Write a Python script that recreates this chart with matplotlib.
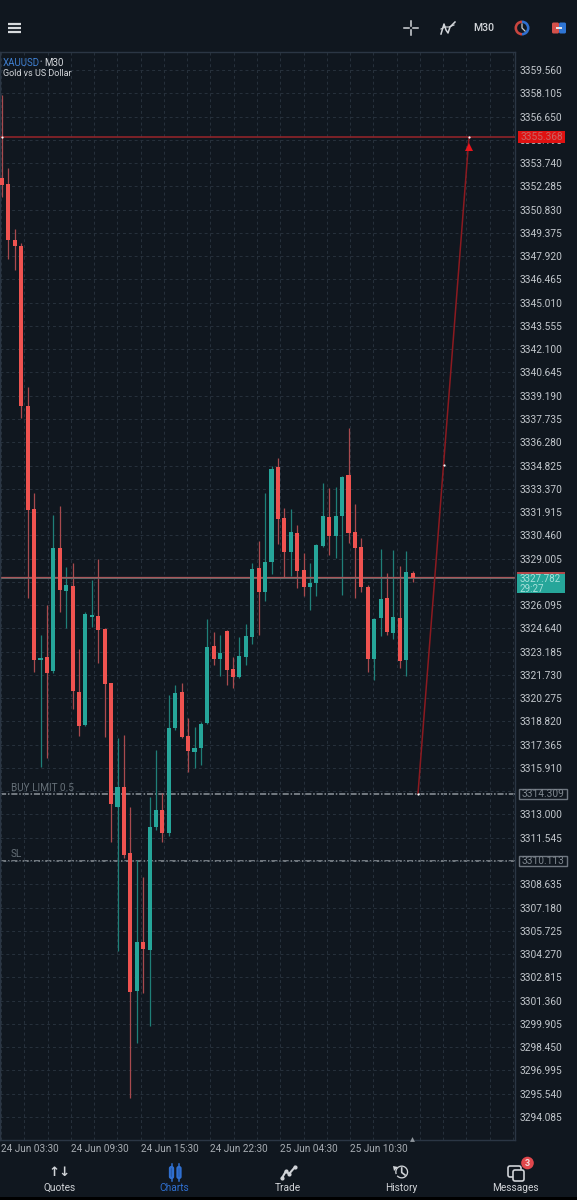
import matplotlib
matplotlib.use("Agg")
import matplotlib.pyplot as plt
from matplotlib.patches import Rectangle, Circle, FancyBboxPatch, Wedge, Polygon

plt.rcParams['font.family'] = ['Roboto', 'DejaVu Sans']

# XAUUSD M30 candles, oldest first
opens = [3352.81, 3352.43, 3348.93, 3348.55, 3338.55, 3332.10, 3322.66, 3322.85, 3321.97, 3329.67,
         3326.98, 3327.29, 3320.66, 3318.60, 3325.35, 3325.41, 3324.60, 3321.22, 3313.47, 3314.72,
         3310.59, 3301.96, 3305.03, 3304.52, 3312.22, 3313.28, 3311.84, 3318.41, 3320.66, 3317.91,
         3316.91, 3317.16, 3318.72, 3323.54, 3322.72, 3324.48, 3322.10, 3321.60, 3322.85, 3324.10,
         3328.42, 3326.91, 3328.79, 3334.73, 3331.54, 3329.42, 3330.60, 3328.29, 3327.23, 3327.48,
         3329.79, 3331.60, 3330.42, 3331.67, 3334.23, 3330.67, 3329.73, 3327.23, 3322.72, 3325.29,
         3326.54, 3324.35, 3325.29, 3322.66, 3328.10]
highs = [3358.00, 3353.43, 3349.62, 3348.74, 3339.73, 3333.11, 3324.22, 3326.10, 3331.73, 3332.29,
         3328.48, 3328.73, 3323.35, 3325.66, 3327.66, 3328.98, 3324.66, 3321.22, 3317.78, 3317.97,
         3313.47, 3310.15, 3309.09, 3314.09, 3317.03, 3314.34, 3320.47, 3321.10, 3321.22, 3319.03,
         3318.47, 3318.78, 3325.23, 3324.41, 3324.22, 3324.54, 3322.85, 3324.10, 3324.91, 3328.73,
         3330.10, 3333.11, 3334.79, 3335.29, 3332.17, 3332.10, 3331.10, 3329.35, 3328.73, 3329.92,
         3333.73, 3333.42, 3333.48, 3334.17, 3337.17, 3332.42, 3330.29, 3327.35, 3325.29, 3329.60,
         3328.10, 3329.54, 3328.54, 3329.48, 3328.23]
lows = [3351.62, 3347.74, 3347.05, 3337.80, 3326.54, 3321.91, 3315.97, 3316.53, 3321.85, 3325.66,
        3324.66, 3319.60, 3317.91, 3318.53, 3324.73, 3322.47, 3317.85, 3311.28, 3304.46, 3310.28,
        3295.27, 3298.71, 3301.84, 3299.77, 3312.03, 3311.28, 3311.65, 3318.28, 3317.78, 3315.66,
        3315.91, 3316.09, 3318.66, 3322.35, 3321.66, 3321.10, 3320.91, 3321.54, 3322.35, 3323.66,
        3324.22, 3326.35, 3328.04, 3329.92, 3327.85, 3327.91, 3327.16, 3326.66, 3325.79, 3326.66,
        3329.73, 3329.23, 3329.04, 3326.73, 3329.98, 3326.54, 3326.91, 3321.91, 3321.41, 3324.16,
        3324.22, 3323.98, 3322.16, 3321.66, 3327.54]
closes = [3352.37, 3348.93, 3348.55, 3338.55, 3332.04, 3322.66, 3322.79, 3321.85, 3329.67, 3327.04,
          3327.35, 3320.72, 3318.53, 3325.54, 3325.48, 3324.54, 3321.16, 3313.66, 3314.72, 3310.47,
          3301.90, 3305.03, 3304.59, 3312.22, 3313.28, 3311.84, 3318.41, 3320.60, 3317.85, 3316.97,
          3317.16, 3318.66, 3323.47, 3322.72, 3323.10, 3322.04, 3321.60, 3322.91, 3324.16, 3328.35,
          3326.91, 3328.79, 3334.61, 3331.48, 3329.42, 3330.67, 3328.23, 3327.23, 3327.48, 3329.85,
          3331.67, 3330.42, 3331.67, 3334.11, 3330.60, 3329.67, 3327.23, 3322.72, 3325.23, 3326.48,
          3324.41, 3325.35, 3322.60, 3328.16, 3327.782]

price_ticks = [3359.560, 3358.105, 3356.650, 3355.195, 3353.740, 3352.285, 3350.830, 3349.375,
               3347.920, 3346.465, 3345.010, 3343.555, 3342.100, 3340.645, 3339.190, 3337.735,
               3336.280, 3334.825, 3333.370, 3331.915, 3330.460, 3329.005, 3327.550, 3326.095,
               3324.640, 3323.185, 3321.730, 3320.275, 3318.820, 3317.365, 3315.910, 3314.455,
               3313.000, 3311.545, 3310.090, 3308.635, 3307.180, 3305.725, 3304.270, 3302.815,
               3301.360, 3299.905, 3298.450, 3296.995, 3295.540, 3294.085]
# these ticks sit under a price tag, so they keep their grid line but no label
covered_ticks = [3327.550, 3314.455, 3310.090]
time_labels = ["24 Jun 03:30", "24 Jun 09:30", "24 Jun 15:30", "24 Jun 22:30", "25 Jun 04:30", "25 Jun 10:30"]
time_px = [30, 100, 170, 239, 309, 379]

take_profit = 3355.368
buy_limit = 3314.309
stop_loss = 3310.113
bid = 3327.782
ask = 3327.880

BG = "#10171f"
GRID = "#27313c"
RED = "#ef5350"
TEAL = "#26a69a"
RED_WICK = "#a84a4e"
TEAL_WICK = "#1f7f78"
LABEL = "#c2c7cc"

W, H = 577, 1200
LEFT_PX, RIGHT_PX, TOP_PX, BOTTOM_PX = 0, 515, 52, 1140
CANDLE_X0, CANDLE_STEP = 2.0, 6.417
PX_PER_UNIT = 15.99


def idx(px):
    return (px - CANDLE_X0) / CANDLE_STEP


fig = plt.figure(figsize=(W / 100, H / 100), dpi=100, facecolor=BG)

# price chart
ax = fig.add_axes([LEFT_PX / W, 1 - BOTTOM_PX / H, (RIGHT_PX - LEFT_PX) / W, (BOTTOM_PX - TOP_PX) / H],
                  facecolor=BG, zorder=1)
ax.set_xlim(idx(LEFT_PX), idx(RIGHT_PX))
ax.set_ylim(price_ticks[0] - (BOTTOM_PX - 70) / PX_PER_UNIT, price_ticks[0] + (70 - TOP_PX) / PX_PER_UNIT)

ax.yaxis.tick_right()
ax.set_yticks(price_ticks)
ax.set_yticklabels(["" if p in covered_ticks else f"{p:.3f}" for p in price_ticks])
ax.set_xticks([idx(p) for p in time_px])
ax.set_xticklabels(time_labels)
ax.set_xticks([idx(1 + 23.27 * k) for k in range(23)], minor=True)
ax.tick_params(axis='y', length=0, pad=3.6, labelsize=7.3, labelcolor=LABEL)
ax.tick_params(axis='x', which='both', length=0, pad=3, labelsize=7.2, labelcolor="#a8adb3")
ax.grid(axis='y', color=GRID, lw=0.7, ls=(0, (3, 3)), zorder=0)
ax.grid(axis='x', which='minor', color=GRID, lw=0.7, ls=(0, (3, 3)), zorder=0)
for s in ax.spines.values():
    s.set_color("#2b3644")
    s.set_linewidth(1.0)

for i in range(len(opens)):
    up = closes[i] >= opens[i]
    ax.vlines(i, lows[i], highs[i], color=TEAL_WICK if up else RED_WICK, lw=0.9, zorder=2)
    bottom = min(opens[i], closes[i])
    height = abs(closes[i] - opens[i])
    ax.bar(i, height, width=0.64, bottom=bottom, color=TEAL if up else RED, linewidth=0, zorder=3)

# order levels
ax.axhline(take_profit, color="#8f2429", lw=1.2, zorder=4)
ax.axhline(buy_limit, color="#8e959c", lw=1.1, ls=(0, (4, 1.2, 1, 1.2)), zorder=1.5)
ax.axhline(stop_loss, color="#8e959c", lw=1.1, ls=(0, (4, 1.2, 1, 1.2)), zorder=1.5)
ax.axhline(bid, color="#5d6b6a", lw=1.4, zorder=2.5)
ax.axhline(ask, color="#a9565a", lw=0.9, zorder=2.5)

# trade line from the pending order up to the target
line_x = [idx(418), idx(469)]
line_y = [buy_limit, take_profit]
ax.plot(line_x, line_y, color="#8c1a20", lw=1.1, zorder=5)
ax.plot(idx(469), take_profit - 0.62, marker='^', ms=5.5, color="#e8141c", mew=0, zorder=6)
ax.plot([idx(418), idx(443.5), idx(469), 0], [buy_limit, 3334.84, take_profit, take_profit],
        ls='none', marker='o', ms=1.6, color="white", mew=0, zorder=7)
ax.plot(idx(411.5), ax.get_ylim()[0] + 0.06, marker='^', ms=3.5, color="#8e959c", mew=0, zorder=7, clip_on=False)

# header, footer and price tags are laid out in pixels
ui = fig.add_axes([0, 0, 1, 1], facecolor='none', zorder=3)
ui.set_xlim(0, W)
ui.set_ylim(H, 0)
ui.axis('off')

ui.text(3, 63, "XAUUSD", color="#3f7fd0", fontsize=7, va='center')
ui.text(39, 63, "\u2022", color="#7f8a96", fontsize=5, va='center')
ui.text(44, 63, "M30", color="#d5d8dc", fontsize=7, va='center')
ui.text(3, 73.5, "Gold vs US Dollar", color="#d5d8dc", fontsize=6.5, va='center')
ui.text(11, 788, "BUY LIMIT 0.5", color="#667078", fontsize=7.2, va='center')
ui.text(11, 854, "SL", color="#667078", fontsize=7.2, va='center')

# price tags
ui.add_patch(Rectangle((518, 131), 47, 12, fc="#e01212", ec='none'))
ui.text(541.5, 137.3, "3355.368", color="#c96464", fontsize=7.3, ha='center', va='center')
ui.add_patch(Rectangle((517, 572), 48, 2.5, fc="#b0484a", ec='none'))
ui.add_patch(Rectangle((517, 574), 48, 19, fc=TEAL, ec='none'))
ui.text(520, 579.5, "3327.782", color="#a6e0da", fontsize=7, va='center')
ui.text(520, 588.5, "29:27", color="#a6e0da", fontsize=7, va='center')
for y, txt in [(794, "3314.309"), (861, "3310.113")]:
    ui.add_patch(Rectangle((519, y - 5.2), 47.5, 10.5, fc=BG, ec="#6f7780", lw=1))
    ui.text(542.5, y + 0.2, txt, color="#7f878f", fontsize=7.3, ha='center', va='center')

# top bar
for y in (23.5, 27.7, 32):
    ui.plot([8, 21], [y, y], color="#d8dbde", lw=1.6, solid_capstyle='butt')
ICON = "#d3d6da"
ui.plot([404, 409], [28, 28], color=ICON, lw=1.1)
ui.plot([413, 418], [28, 28], color=ICON, lw=1.1)
ui.plot([411, 411], [21, 26], color=ICON, lw=1.1)
ui.plot([411, 411], [30, 35], color=ICON, lw=1.1)
ui.plot([441, 444, 446, 448, 450, 455], [34, 24, 30, 33, 27, 22], color=ICON, lw=1.1)
ui.plot([441, 445, 449, 454], [29, 27, 27, 25], color=ICON, lw=0.8)
ui.text(484, 28, "M30", color="#d3d6da", fontsize=7.6, ha='center', va='center', fontweight='medium')

ui.add_patch(Wedge((522, 28), 7.5, 90, 270, width=2.6, fc="#c8453f", ec='none'))
ui.add_patch(Wedge((522, 28), 7.5, 270, 90, width=2.6, fc="#2f6fd0", ec='none'))
ui.plot([522, 522, 525], [24, 28, 31], color="#c9ccd0", lw=0.9)
ui.add_patch(FancyBboxPatch((552, 22.5), 7, 11, boxstyle="round,pad=0,rounding_size=1.5", fc="#d4504a", ec='none'))
ui.add_patch(FancyBboxPatch((559, 22.5), 7, 11, boxstyle="round,pad=0,rounding_size=1.5", fc="#2f75d4", ec='none'))
ui.add_patch(Rectangle((556, 26.7), 6, 2.6, fc="#e4e6e8", ec='none'))

# bottom navigation
NAV = "#d0d3d7"
ui.text(60, 1172, "\u2191\u2193", color=NAV, fontsize=9.5, ha='center', va='center',
        family='DejaVu Sans', fontweight='bold')
for x in (171.5, 179):
    ui.add_patch(FancyBboxPatch((x - 1.6, 1167), 3.2, 11, boxstyle="round,pad=0,rounding_size=1.4",
                                fc=BG, ec="#2f6fd0", lw=1.5))
    ui.plot([x, x], [1164, 1181], color="#2f6fd0", lw=1.1, zorder=1)
ui.plot([282, 286, 289, 295], [1178, 1171, 1174, 1167], color=NAV, lw=1.5)
ui.plot([282, 286, 289, 295], [1178, 1171, 1174, 1167], ls='none', marker='o', ms=3, color=NAV, mew=0)
ui.add_patch(Wedge((401.7, 1172), 6.5, -200, 140, width=1.3, fc=NAV, ec='none'))
ui.add_patch(Polygon([(393, 1166), (398, 1167), (394, 1171)], fc=NAV, ec='none'))
ui.plot([401.7, 401.7, 405], [1168, 1172.5, 1175], color=NAV, lw=1.2)
ui.add_patch(FancyBboxPatch((508, 1166), 13, 11, boxstyle="round,pad=0,rounding_size=2", fc=BG, ec=NAV, lw=1.2))
ui.add_patch(FancyBboxPatch((513, 1170), 11, 11, boxstyle="round,pad=0,rounding_size=2", fc=BG, ec=NAV, lw=1.2))
ui.add_patch(Circle((527.5, 1163), 6.3, fc="#e0474c", ec='none'))
ui.text(527.5, 1163.2, "3", color="#f3dada", fontsize=6.6, ha='center', va='center', fontweight='bold')

for x, label, colour in [(60, "Quotes", NAV), (174, "Charts", "#2f6fd0"), (288, "Trade", NAV),
                         (401.5, "History", NAV), (515, "Messages", NAV)]:
    ui.text(x, 1188, label, color=colour, fontsize=7.3, ha='center', va='center')
ui.add_patch(Rectangle((0, 1197), W, 3, fc="#000000", ec='none'))

fig.savefig("out.png", dpi=100, facecolor=BG)
